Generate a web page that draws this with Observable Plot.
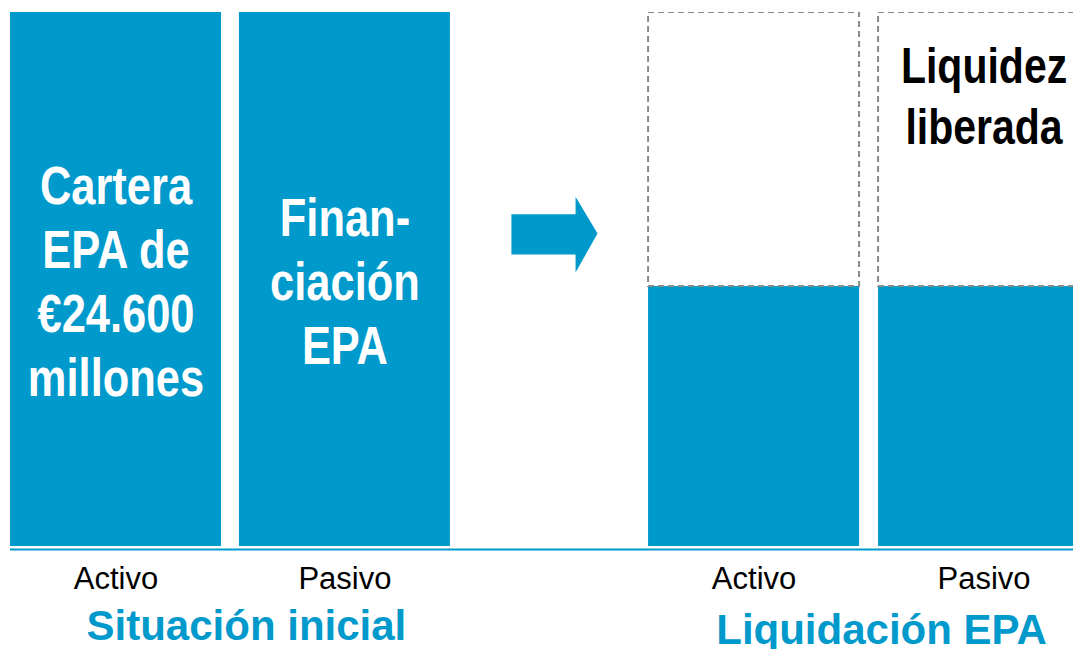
<!DOCTYPE html>
<html>
<head>
<meta charset="utf-8">
<script src="https://cdn.jsdelivr.net/npm/d3@7"></script>
<script src="https://cdn.jsdelivr.net/npm/@observablehq/plot@0.6"></script>
<style>
  html, body { margin: 0; padding: 0; background: #fff; }
  #chart svg { display: block; }
</style>
</head>
<body>
<div id="chart"></div>
<script>
// ---- Data ----
const categories = ["Activo", "Pasivo", "Activo", "Pasivo"];
const groupOfBar = ["Situación inicial", "Situación inicial", "Liquidación EPA", "Liquidación EPA"];
const slotStart = [0, 1.085, 3.024, 4.114];           // bar left edge, in bar-width units
const filledValues = [100, 100, 48.7, 48.7];          // % of the €24.600 M portfolio
const outlineValues = [null, null, 100, 100];          // original size shown dashed
const barTexts = ["Cartera\nEPA de\n€24.600\nmillones", "Finan-\nciación\nEPA", "", "Liquidez\nliberada"];
const barTextY = [50, 50, null, 84.7];
const barTextSize = [53, 53, null, 50];
const groupTitles = ["Situación inicial", "Liquidación EPA"];
const groupTitleX = [1.118, 4.128];
// transition arrow outline (x in bar units, y in %)
const arrowX = [2.374, 2.678, 2.678, 2.782, 2.678, 2.678, 2.374];
const arrowY = [62.2, 62.2, 65.5, 58.6, 51.3, 54.7, 54.7];

const BLUE = "#0099cc";
const SANS = "'Liberation Sans', Arial, sans-serif";

const bars = categories.map((c, i) => ({
  cat: c, group: groupOfBar[i],
  x1: slotStart[i], x2: slotStart[i] + 1,
  xc: slotStart[i] + 0.5,
  filled: filledValues[i], outline: outlineValues[i],
  text: barTexts[i], ty: barTextY[i], size: barTextSize[i]
}));
const outlines = bars.filter(d => d.outline != null);
const texts = bars.filter(d => d.text);
const titles = groupTitles.map((t, i) => ({t, x: groupTitleX[i]}));
const arrow = arrowX.map((x, i) => ({x, y: arrowY[i]}));

const chart = Plot.plot({
  width: 1073,
  height: 649,
  marginTop: 12,
  marginBottom: 103,
  marginLeft: 0,
  marginRight: 0,
  x: {type: "linear", domain: [-0.0474, 5.0379], axis: null},
  y: {domain: [0, 100], axis: null},
  marks: [
    Plot.rect(bars, {x1: "x1", x2: "x2", y1: 0, y2: "filled", fill: BLUE, clip: true}),
    Plot.rect(outlines, {x1: "x1", x2: "x2", y1: "filled", y2: "outline", fill: "none",
      stroke: "#8a8a8a", strokeWidth: 2, strokeDasharray: "6,4", clip: true}),
    Plot.ruleY([0], {x1: slotStart[0], x2: 5.0379, stroke: BLUE, strokeWidth: 2, dy: 3}),
    Plot.line(arrow, {x: "x", y: "y", fill: BLUE, stroke: "none"}),
    Plot.text(texts, {x: "xc", y: "ty", text: "text", className: "narrow",
      fill: d => d.group === "Liquidación EPA" ? "#000" : "#fff",
      fontFamily: SANS, fontWeight: "bold", fontSize: "size", lineHeight: 1.21, lineAnchor: "middle"}),
    Plot.text(bars, {x: "xc", y: 0, text: "cat", dy: 42, lineAnchor: "bottom",
      fontFamily: SANS, fontSize: 31, fill: "#000"}),
    Plot.text(titles, {x: "x", y: 0, text: "t", lineAnchor: "bottom", className: "gtitle",
      fontFamily: SANS, fontWeight: "bold", fontSize: 42, fill: BLUE})
  ]
});
// titles: offset below the axis
d3.select(chart).selectAll(".gtitle text").each(function() {
  const t = this.getAttribute("transform");
  const extra = this.textContent === groupTitles[1] ? 97 : 93;
  this.setAttribute("transform", t + ` translate(0,${extra})`);
});
// narrow (condensed) look for in-bar labels
d3.select(chart).selectAll(".narrow text").each(function() {
  const t = this.getAttribute("transform") || "";
  this.setAttribute("transform", t + " scale(0.82,1)");
});
document.getElementById("chart").appendChild(chart);
</script>
</body>
</html>
